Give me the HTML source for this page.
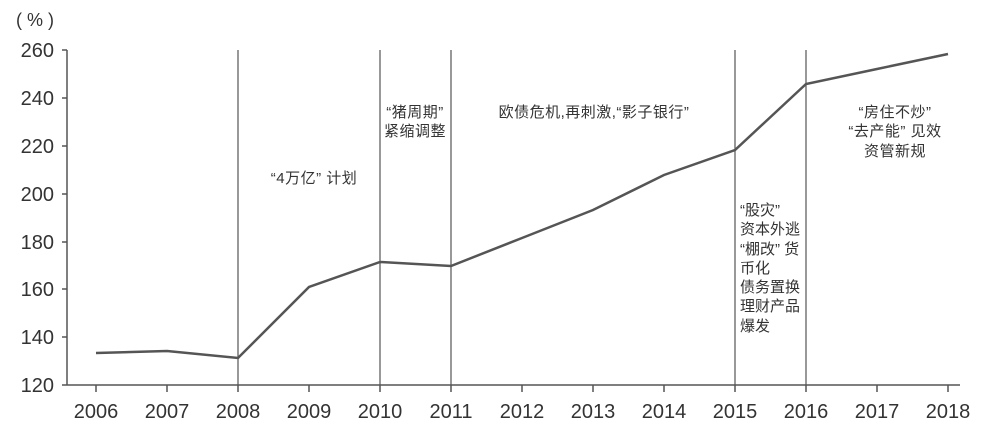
<!DOCTYPE html>
<html><head><meta charset="utf-8"><style>
body{margin:0;background:#fff}
svg text{font-family:"Liberation Sans","Noto Sans CJK SC",sans-serif;fill:#333}
</style></head><body>
<svg width="1000" height="430" xmlns="http://www.w3.org/2000/svg">
<g stroke="#555" stroke-width="1.5" fill="none">
<line x1="67" y1="50" x2="67" y2="385"/>
<line x1="62" y1="385" x2="960" y2="385"/>
<line x1="62" y1="50" x2="67" y2="50"/>
<line x1="62" y1="98" x2="67" y2="98"/>
<line x1="62" y1="146" x2="67" y2="146"/>
<line x1="62" y1="194" x2="67" y2="194"/>
<line x1="62" y1="242" x2="67" y2="242"/>
<line x1="62" y1="289" x2="67" y2="289"/>
<line x1="62" y1="337" x2="67" y2="337"/>
<path d="M96 385v7M167 385v7M238 385v7M309 385v7M380 385v7M451 385v7M522 385v7M593 385v7M664 385v7M735 385v7M806 385v7M877 385v7M948 385v7"/>
<path d="M238 50V385M380 50V385M451 50V385M735 50V385M806 50V385" stroke-width="1.2"/>
<polyline stroke-width="2.5" stroke="#555" points="96,353 167,351 238,358 309,287 380,262 451,266 522,238 593,210 664,175 735,150 806,84 877,69 948,54"/>
</g>
<g font-size="20" text-anchor="end">
<text x="54" y="57">260</text><text x="54" y="105">240</text><text x="54" y="153">220</text>
<text x="54" y="201">200</text><text x="54" y="249">180</text><text x="54" y="296">160</text>
<text x="54" y="344">140</text><text x="54" y="392">120</text>
</g>
<text x="16" y="26" font-size="18">( % )</text>
<g font-size="20" text-anchor="middle">
<text x="96" y="418">2006</text><text x="167" y="418">2007</text><text x="238" y="418">2008</text>
<text x="309" y="418">2009</text><text x="380" y="418">2010</text><text x="451" y="418">2011</text>
<text x="522" y="418">2012</text><text x="593" y="418">2013</text><text x="664" y="418">2014</text>
<text x="735" y="418">2015</text><text x="806" y="418">2016</text><text x="877" y="418">2017</text>
<text x="948" y="418">2018</text>
</g>
<g font-size="15" text-anchor="middle" style="letter-spacing:0.5px">
<text x="314" y="183">“4万亿” 计划</text>
<text x="415" y="117">“猪周期”</text><text x="415" y="136">紧缩调整</text>
<text x="594" y="117">欧债危机,再刺激,“影子银行”</text>
<text x="895" y="117">“房住不炒”</text><text x="895" y="136">“去产能” 见效</text><text x="895" y="156">资管新规</text>
</g>
<g font-size="15">
<text x="740" y="215">“股灾”</text><text x="740" y="234">资本外逃</text><text x="740" y="254">“棚改” 货</text>
<text x="740" y="273">币化</text><text x="740" y="292">债务置换</text><text x="740" y="311">理财产品</text><text x="740" y="331">爆发</text>
</g>
</svg>
</body></html>
